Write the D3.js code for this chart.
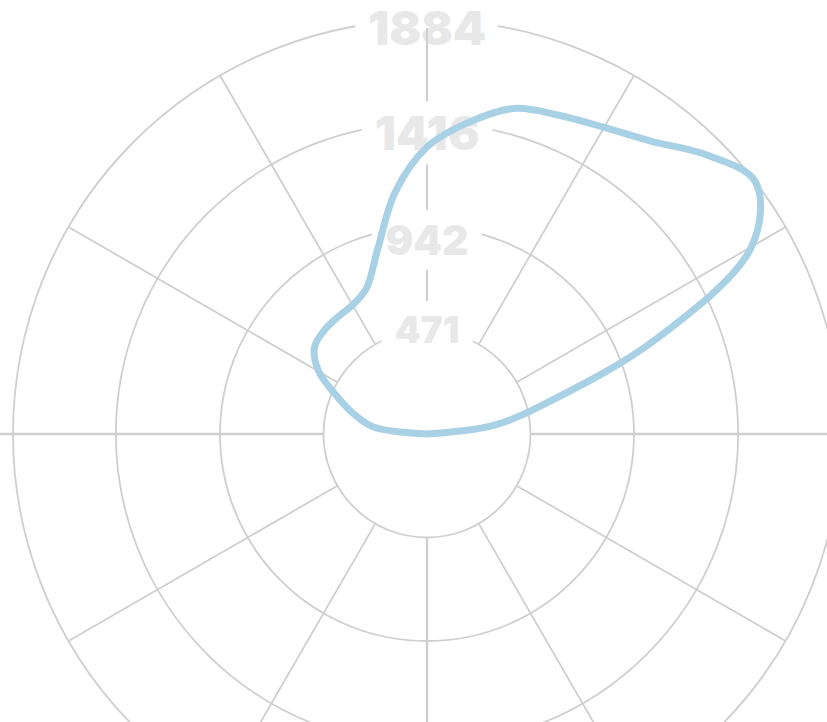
<!DOCTYPE html>
<html>
<head>
<meta charset="utf-8">
<script src="https://cdn.jsdelivr.net/npm/d3@7"></script>
<style>
    html, body { margin: 0; padding: 0; background: #ffffff; }
    #radial-chart { width: 827px; height: 722px; overflow: hidden; }
    .tick-label { font-family: Inter, Lato, sans-serif; font-weight: 900; }
</style>
</head>
<body>
<div id="radial-chart"></div>
<script>
// half-hourly values, midnight at the top, going clockwise
const slots = [0, 0.5, 1, 1.5, 2, 2.5, 3, 3.5, 4, 4.5, 5, 5.5, 6, 6.5, 7, 7.5, 8, 8.5, 9, 9.5, 10, 10.5, 11, 11.5,
               12, 12.5, 13, 13.5, 14, 14.5, 15, 15.5, 16, 16.5, 17, 17.5, 18, 18.5, 19, 19.5, 20, 20.5, 21, 21.5, 22, 22.5, 23, 23.5];
const counts = [1306, 1429, 1534, 1570, 1611, 1679, 1797, 1884, 1706, 1129, 582, 309,
                0, 0, 0, 0, 0, 0, 0, 0, 0, 0, 0, 0,
                0, 0, 0, 0, 0, 0, 0, 0, 0, 0, 0, 0,
                0, 246, 341, 441, 569, 646, 664, 669, 678, 719, 869, 1110];
const tickValues = [471, 942, 1416, 1884];
const spokeHours = [0, 2, 4, 6, 8, 10, 12, 14, 16, 18, 20, 22];

document.addEventListener("DOMContentLoaded", function() {
    const width = 827;
    const height = 722;
    const cx = 427, cy = 434;
    const outerRadius = 414;

    const svg = d3.select("#radial-chart")
        .append("svg")
        .attr("width", width)
        .attr("height", height);

    const g = svg.append("g")
        .attr("transform", `translate(${cx},${cy})`);

    const x = d3.scaleLinear().domain([0, 24]).range([0, 2 * Math.PI]);
    const y = d3.scaleLinear().domain([0, d3.max(tickValues)]).range([0, outerRadius]);

    const innerRadius = y(tickValues[0]);
    const gridColor = "#cfcfcf";

    // rings
    g.selectAll(".ring")
        .data(tickValues)
        .enter().append("circle")
        .attr("class", "ring")
        .attr("r", d => y(d))
        .attr("fill", "none")
        .attr("stroke", gridColor)
        .attr("stroke-width", 1.8);

    // spokes (the top one is drawn later, with the labels)
    g.selectAll(".spoke")
        .data(spokeHours.filter(h => h !== 0))
        .enter().append("line")
        .attr("class", "spoke")
        .attr("x1", h => Math.sin(x(h)) * innerRadius)
        .attr("y1", h => -Math.cos(x(h)) * innerRadius)
        .attr("x2", h => Math.sin(x(h)) * (h % 6 === 0 ? 480 : outerRadius))
        .attr("y2", h => -Math.cos(x(h)) * (h % 6 === 0 ? 480 : outerRadius))
        .attr("stroke", gridColor)
        .attr("stroke-width", h => h % 6 === 0 ? 2.4 : 1.8);

    const labelSize = [37, 41, 47, 47];
    const labelShift = [-1, 13, 10, 8];

    function addLabel(d, i) {
        const lab = g.append("g")
            .attr("class", "tick-label")
            .attr("transform", `translate(0,${-y(d) + labelShift[i]})`)
            .style("font-size", labelSize[i] + "px");
        lab.append("text")
            .attr("text-anchor", "middle")
            .attr("dy", "0.36em")
            .attr("fill", "none")
            .attr("stroke", "#ffffff")
            .attr("stroke-width", 30)
            .attr("stroke-linejoin", "round")
            .text(d);
        lab.append("text")
            .attr("text-anchor", "middle")
            .attr("dy", "0.36em")
            .attr("fill", "#e8e8e8")
            .text(d);
    }

    // outermost label sits under the top spoke, the others above it
    addLabel(tickValues[3], 3);

    g.append("line")
        .attr("x1", 0)
        .attr("y1", -innerRadius)
        .attr("x2", 0)
        .attr("y2", -406)
        .attr("stroke", gridColor)
        .attr("stroke-width", 2);

    [0, 1, 2].forEach(i => addLabel(tickValues[i], i));

    const line = d3.lineRadial()
        .angle((d, i) => x(slots[i]))
        .radius(d => y(d))
        .curve(d3.curveCatmullRomClosed.alpha(0.5));

    g.append("path")
        .datum(counts)
        .attr("d", line)
        .attr("fill", "none")
        .attr("stroke", "#a9d1e6")
        .attr("stroke-width", 7)
        .attr("stroke-linejoin", "round");
});
</script>
</body>
</html>
